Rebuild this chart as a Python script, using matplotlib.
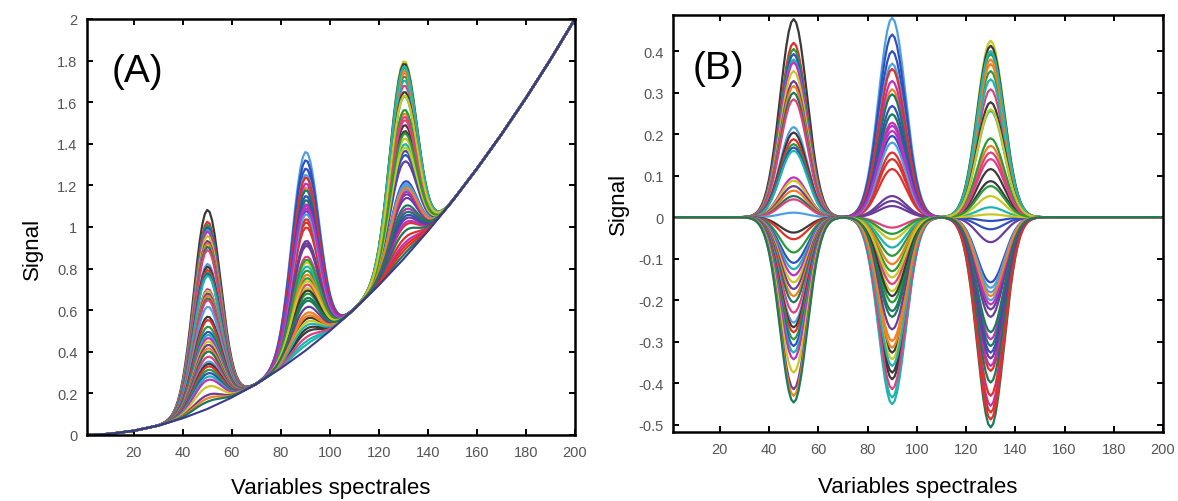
import numpy as np
import matplotlib
matplotlib.use("Agg")
import matplotlib.pyplot as plt

plt.rcParams['font.family'] = ['Liberation Sans', 'DejaVu Sans']
plt.rcParams['axes.unicode_minus'] = False

# spectral variables and baseline
variables = np.arange(1, 201)
baseline_x = [1, 10, 20, 30, 40, 50, 60, 70, 80, 90, 100, 110, 120, 130, 140, 150, 160, 170, 180, 190, 200]
baseline_y = [0.0, 0.005, 0.02, 0.045, 0.08, 0.125, 0.18, 0.245, 0.32, 0.405, 0.5, 0.605, 0.72,
              0.845, 0.98, 1.125, 1.28, 1.445, 1.62, 1.805, 2.0]

peak_centres = [50, 90, 130]
peak_width = 5.5
peak_mean_height = [0.48, 0.475, 0.525]

# centred peak heights of each spectrum
peak1 = [0.477, 0.42, 0.405, 0.393, 0.38, 0.373, 0.352, 0.328, 0.316, 0.30, 0.284, 0.217, 0.204,
         0.188, 0.176, 0.168, 0.16, 0.096, 0.088, 0.075, 0.064, 0.051, 0.043, 0.011, -0.037, -0.053,
         -0.085, -0.11, -0.125, -0.14, -0.157, -0.173, -0.19, -0.205, -0.23, -0.254, -0.265, -0.277,
         -0.294, -0.31, -0.326, -0.342, -0.374, -0.414, -0.43, -0.446]
peak2 = [-0.326, 0.156, -0.093, 0.40, -0.434, 0.228, -0.178, 0.051, 0.308, -0.24, -0.025, 0.48,
         -0.374, 0.14, -0.13, 0.196, -0.45, 0.328, -0.053, 0.027, -0.298, 0.248, -0.161, 0.37, -0.39,
         0.116, -0.205, 0.44, -0.073, 0.208, -0.342, 0.039, -0.113, 0.296, -0.414, 0.18, -0.19, 0.357,
         -0.04, 0.268, -0.358, 0.22, -0.145, -0.27, -0.314, -0.226]
peak3 = [0.087, -0.43, 0.352, -0.157, 0.024, -0.294, 0.425, -0.06, 0.172, -0.506, 0.308, -0.2, 0.116,
         -0.37, 0.393, -0.009, 0.256, -0.454, 0.051, -0.222, 0.38, -0.31, 0.14, -0.17, 0.413, -0.487,
         0.19, -0.029, 0.332, -0.358, 0.007, -0.24, 0.369, -0.398, 0.156, -0.181, 0.277, -0.47, 0.075,
         -0.326, 0.40, -0.21, 0.26, -0.34, -0.19, -0.277]

ticksA = [0, 0.2, 0.4, 0.6, 0.8, 1, 1.2, 1.4, 1.6, 1.8, 2]
ticksB = [-0.5, -0.4, -0.3, -0.2, -0.1, 0, 0.1, 0.2, 0.3, 0.4]

colors = ['#3a3a3a', '#e0302a', '#2a9a3a', '#3050c0', '#20b4b0', '#c030c0', '#c8c820',
          '#6a3d9a', '#f08020', '#1a7a5a', '#e04080', '#50a0e0']

base = np.interp(variables, baseline_x, baseline_y)
shapes = [np.exp(-0.5 * ((variables - c) / peak_width) ** 2) for c in peak_centres]

fig = plt.figure(figsize=(11.78, 5.02), dpi=100)
axA = fig.add_axes([0.0739, 0.1315, 0.4142, 0.8287])
axB = fig.add_axes([0.5713, 0.1375, 0.4160, 0.8307])

for i in range(len(peak1)):
    b = [peak1[i], peak2[i], peak3[i]]
    centred = sum(b[k] * shapes[k] for k in range(3))
    raw = base + sum((peak_mean_height[k] + b[k]) * shapes[k] for k in range(3))
    col = colors[i % len(colors)]
    axA.plot(variables, raw, color=col, lw=1.6)
    axB.plot(variables, centred, color=col, lw=1.6)

axA.plot(variables, base, color='#3a3a8a', lw=1.5)

for ax in (axA, axB):
    ax.set_xlim(1, 200)
    ax.set_xticks(range(20, 201, 20))
    ax.tick_params(direction='in', top=True, right=True, length=4, width=1.4,
                   labelsize=10.5, labelcolor='#555555', pad=7)
    for s in ax.spines.values():
        s.set_linewidth(1.8)
    ax.set_xlabel('Variables spectrales', fontsize=16)
    ax.set_ylabel('Signal', fontsize=16)

axA.set_ylim(0, 2)
axA.set_yticks(ticksA)
axA.set_yticklabels([str(t) for t in ticksA])
axA.xaxis.set_label_coords(0.5, -0.1)
axA.yaxis.set_label_coords(-0.09, 0.45)
axA.text(11, 1.75, '(A)', fontsize=28, va='center')

axB.set_ylim(-0.517, 0.487)
axB.set_yticks(ticksB)
axB.set_yticklabels([str(t) for t in ticksB])
axB.xaxis.set_label_coords(0.5, -0.105)
axB.yaxis.set_label_coords(-0.09, 0.55)
axB.text(9, 0.36, '(B)', fontsize=28, va='center')

fig.savefig('out.png', dpi=100)
